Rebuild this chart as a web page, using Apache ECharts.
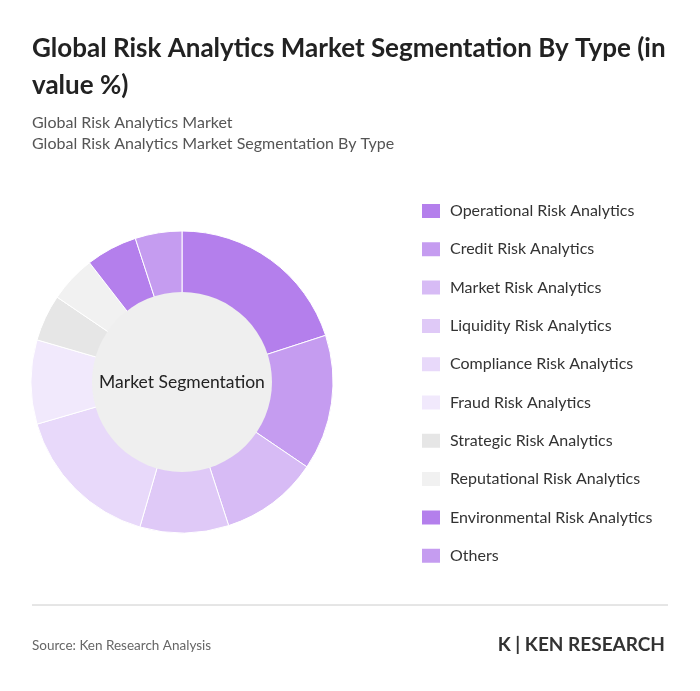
<!DOCTYPE html>
<html><head><meta charset="utf-8">
<script src="https://cdn.jsdelivr.net/npm/echarts@6/dist/echarts.min.js"></script>
<style>html,body{margin:0;padding:0;background:#fff}#c{width:700px;height:691px}</style>
</head><body><div id="c"></div>
<script>
const categories = ["Operational Risk Analytics","Credit Risk Analytics","Market Risk Analytics","Liquidity Risk Analytics","Compliance Risk Analytics","Fraud Risk Analytics","Strategic Risk Analytics","Reputational Risk Analytics","Environmental Risk Analytics","Others"];
const values = [20,14.5,10.5,9.5,16,9,5,5,5.5,5];
const colors = ["#b47fec","#c59cf0","#d7bbf5","#dfc9f7","#e8d9fa","#f1e9fc","#e6e6e6","#f1f1f1","#b47fec","#c59cf0"];
const chart = echarts.init(document.getElementById('c'));
const font = "Lato, 'Noto Sans', sans-serif";
chart.setOption({
  animation:false,
  title:[
    {text:"Global Risk Analytics Market Segmentation By Type (in\nvalue %)",left:27,top:25,textStyle:{fontFamily:font,fontSize:26,fontWeight:'bold',color:'#222',lineHeight:37}},
    {text:"Global Risk Analytics Market\nGlobal Risk Analytics Market Segmentation By Type",left:27,top:107,textStyle:{fontFamily:font,fontSize:16,fontWeight:'normal',color:'#555',lineHeight:21}},
    {text:"Source: Ken Research Analysis",left:27,top:634,textStyle:{fontFamily:font,fontSize:13.5,fontWeight:'normal',color:'#666'}},
    {text:"K | KEN RESEARCH",right:30,top:630,textStyle:{fontFamily:font,fontSize:19,fontWeight:'bold',color:'#333'}}
  ],
  legend:{orient:'vertical',left:415,top:197,itemWidth:20,itemHeight:16,itemGap:20.3,icon:'rect',
    textStyle:{fontFamily:font,fontSize:16,color:'#333',padding:[0,0,0,4]},data:categories},
  graphic:[{type:'line',shape:{x1:32,y1:605,x2:668,y2:605},style:{stroke:'#ccc',lineWidth:1}}],
  series:[
    {type:'pie',center:[182,382],radius:[88,151],startAngle:90,clockwise:true,label:{show:false},
     itemStyle:{borderColor:'#fff',borderWidth:1},
     data:categories.map((n,i)=>({name:n,value:values[i],itemStyle:{color:colors[i]}}))},
    {type:'pie',center:[182,382],radius:[0,90],silent:true,legendHoverLink:false,
     label:{show:true,position:'center',formatter:'Market Segmentation',fontFamily:font,fontSize:17.5,color:'#222'},
     data:[{name:'_c',value:1,itemStyle:{color:'#efefef'}}]}
  ]
});
</script></body></html>
